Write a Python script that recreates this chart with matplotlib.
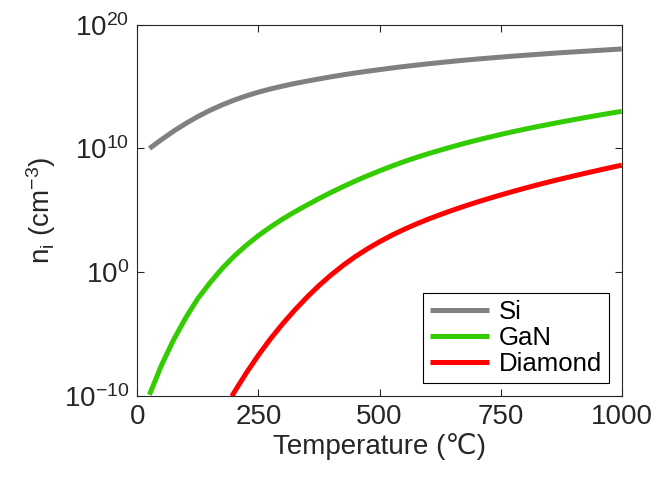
import matplotlib
matplotlib.use("Agg")
import matplotlib.pyplot as plt
import numpy as np

# Data (log10 of n_i in cm^-3), temperature in degC
t_si = [25, 50, 75, 100, 125, 150, 175, 200, 225, 250, 275, 300, 325, 350, 375, 400,
        425, 450, 475, 500, 525, 550, 575, 600, 625, 650, 675, 700, 725, 750,
        775, 800, 825, 850, 875, 900, 925, 950, 975, 1000]
log_si = [10.00, 10.72, 11.40, 12.02, 12.58, 13.08, 13.52, 13.91, 14.25, 14.55, 14.81, 15.04,
          15.25, 15.44, 15.62, 15.79, 15.95, 16.10, 16.24, 16.37, 16.50, 16.62, 16.73, 16.84,
          16.94, 17.04, 17.13, 17.22, 17.30, 17.38, 17.46, 17.53, 17.60, 17.67, 17.74, 17.80,
          17.86, 17.92, 17.98, 18.04]

t_gan = [25, 50, 75, 100, 125, 150, 175, 200, 225, 250, 275, 300, 325, 350, 375, 400,
         425, 450, 475, 500, 525, 550, 575, 600, 625, 650, 675, 700, 725, 750,
         775, 800, 825, 850, 875, 900, 925, 950, 975, 1000]
log_gan = [-9.90, -7.50, -5.45, -3.68, -2.12, -0.85, 0.30, 1.30, 2.18, 2.96, 3.66, 4.30,
           4.88, 5.42, 5.95, 6.45, 6.92, 7.37, 7.79, 8.19, 8.57, 8.93, 9.26, 9.57,
           9.86, 10.14, 10.41, 10.66, 10.90, 11.13, 11.35, 11.56, 11.76, 11.95, 12.14, 12.32,
           12.50, 12.67, 12.84, 13.00]

t_dia = [195, 200, 225, 250, 275, 300, 325, 350, 375, 400, 425, 450, 475, 500, 525, 550,
         575, 600, 625, 650, 675, 700, 725, 750, 775, 800, 825, 850, 875, 900, 925, 950,
         975, 1000]
log_dia = [-10.02, -9.70, -8.14, -6.70, -5.38, -4.17, -3.06, -2.03, -1.08, -0.22, 0.56, 1.26,
           1.89, 2.46, 2.98, 3.45, 3.88, 4.28, 4.65, 5.00, 5.33, 5.65, 5.95, 6.24,
           6.52, 6.79, 7.05, 7.30, 7.54, 7.77, 8.00, 8.22, 8.44, 8.65]

series_names = ["Si", "GaN", "Diamond"]
series_colors = ["#808080", "#33CC00", "#FF0000"]

x_ticks = [0, 250, 500, 750, 1000]
y_tick_exps = [-10, 0, 10, 20]

plt.rcParams['font.family'] = ['Liberation Sans', 'DejaVu Sans']
plt.rcParams['mathtext.fontset'] = 'custom'
plt.rcParams['mathtext.rm'] = 'Liberation Sans'
plt.rcParams['mathtext.it'] = 'Liberation Sans:italic'

fig = plt.figure(figsize=(6.58, 4.79), dpi=100)
ax = fig.add_axes([0.2087, 0.1733, 0.9448 - 0.2087, 0.9484 - 0.1733])

for t, lv, name, c in zip([t_si, t_gan, t_dia], [log_si, log_gan, log_dia], series_names, series_colors):
    ax.plot(t, 10.0 ** np.array(lv), color=c, lw=3.6, label=name,
            solid_capstyle='butt', solid_joinstyle='round')

ax.set_yscale('log')
ax.set_xlim(0, 1000)
ax.set_ylim(1e-10, 1e20)
ax.set_xticks(x_ticks)
ax.set_xticklabels([str(v) for v in x_ticks])
ax.set_yticks([10.0 ** e for e in y_tick_exps])
ax.set_yticklabels([r'$\mathregular{10^{%d}}$' % e for e in y_tick_exps])
ax.yaxis.set_minor_locator(matplotlib.ticker.NullLocator())

tc = '#262626'
for s in ax.spines.values():
    s.set_color(tc)
    s.set_linewidth(0.8)
ax.tick_params(axis='both', which='major', direction='in', length=5, width=0.8,
               top=True, right=True, labelsize=20, colors=tc, pad=6)

ax.set_xlabel('Temperature (℃)', fontsize=20, color=tc, labelpad=2)
ax.set_ylabel(r'n$_\mathregular{i}$ (cm$^\mathregular{-3}$)', fontsize=20, color=tc, labelpad=4)

leg = ax.legend(loc='lower right', fontsize=18.5, frameon=True, fancybox=False,
                edgecolor='black', framealpha=1, handlelength=2.3, handletextpad=0.35,
                borderpad=0.28, labelspacing=0.08, borderaxespad=0.5)
leg.get_frame().set_linewidth(0.8)

fig.savefig('out.png', dpi=100)
